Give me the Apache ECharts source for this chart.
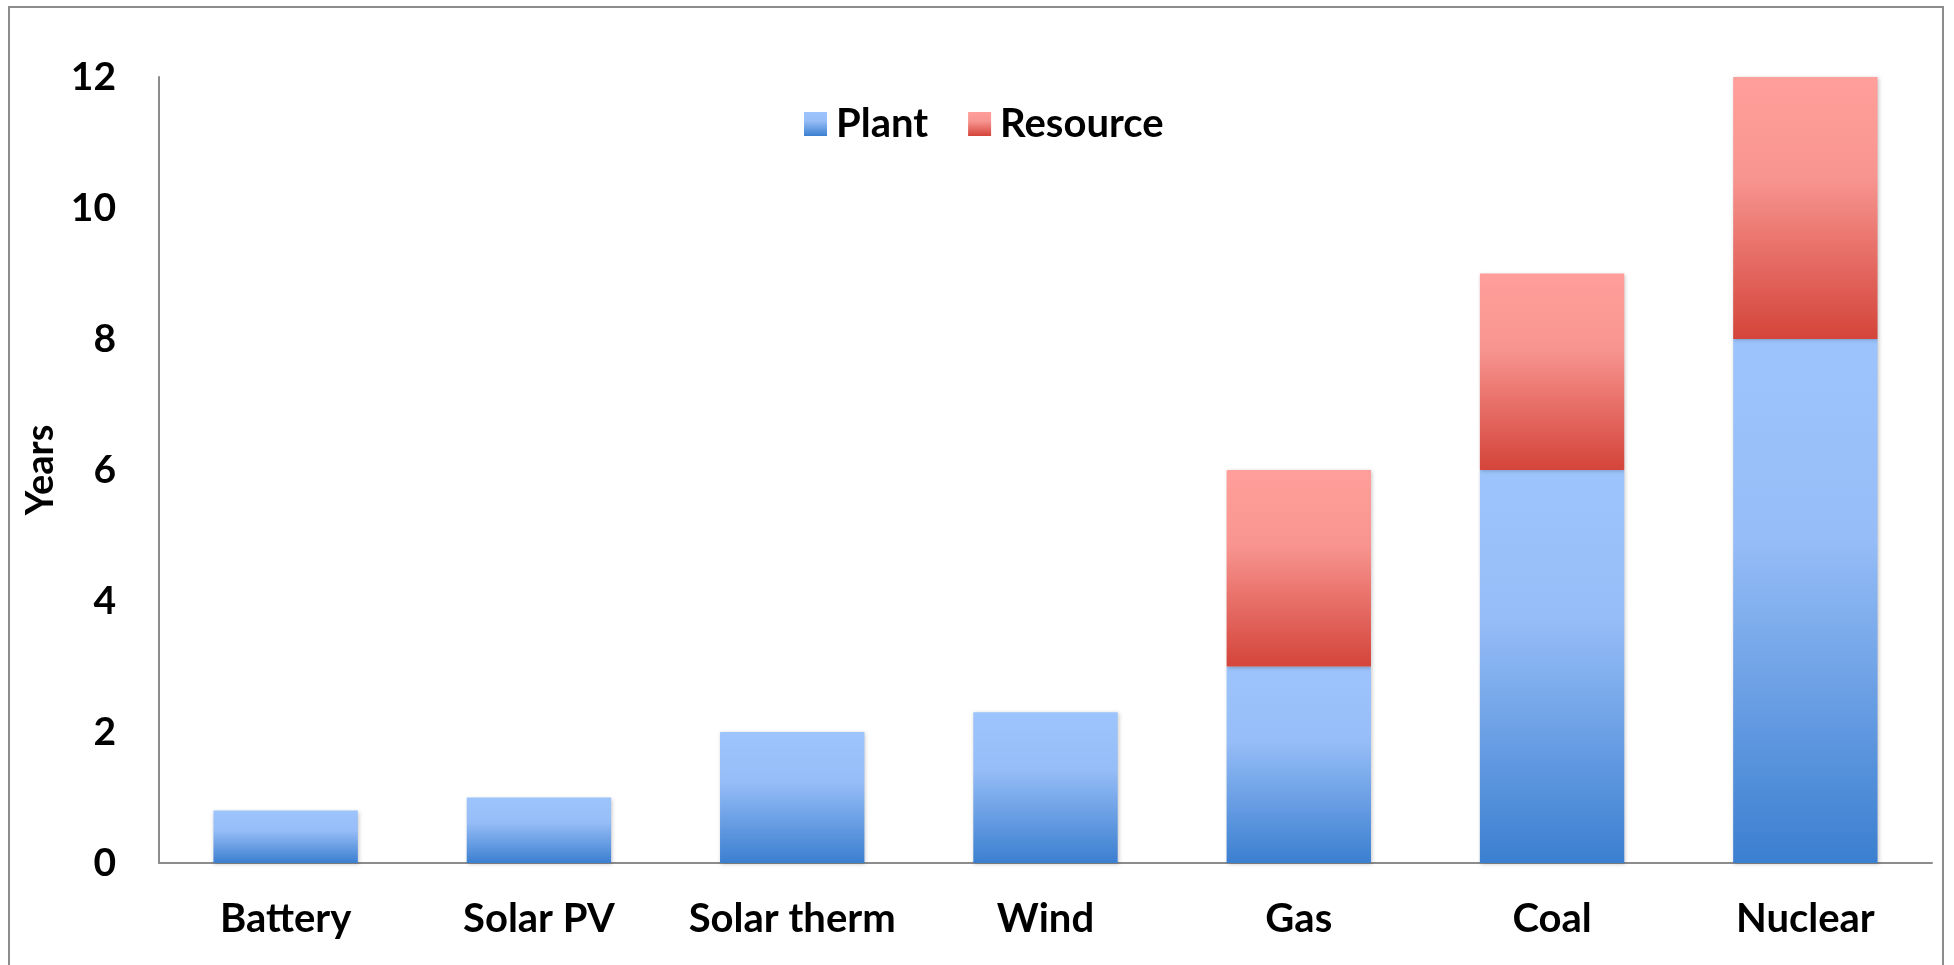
<!DOCTYPE html>
<html>
<head>
<meta charset="utf-8">
<script src="https://cdn.jsdelivr.net/npm/echarts@6/dist/echarts.min.js"></script>
<style>
html,body{margin:0;padding:0;background:#fff;}
#chart{width:1954px;height:965px;}
</style>
</head>
<body>
<div id="chart"></div>
<script>
const categories = ['Battery', 'Solar PV', 'Solar therm', 'Wind', 'Gas', 'Coal', 'Nuclear'];
const plantValues = [0.8, 1.0, 2.0, 2.3, 3, 6, 8];
const resourceValues = [null, null, null, null, 3, 3, 4];
const seriesNames = ['Plant', 'Resource'];
const yTicks = { min: 0, max: 12, interval: 2 };

const FONT = 'Lato, "Open Sans", sans-serif';

function grad(top, mid, bottom) {
  return new echarts.graphic.LinearGradient(0, 0, 0, 1, [
    { offset: 0, color: top },
    { offset: 0.38, color: mid },
    { offset: 1, color: bottom }
  ]);
}

const chart = echarts.init(document.getElementById('chart'), null, { renderer: 'canvas' });
chart.setOption({
  backgroundColor: '#ffffff',
  animation: false,
  graphic: [{
    type: 'rect',
    shape: { x: 9, y: 7, width: 1934, height: 975 },
    style: { fill: 'none', stroke: '#8c8c8c', lineWidth: 2 },
    silent: true
  }],
  legend: {
    left: 799,
    top: 99,
    itemWidth: 23,
    itemHeight: 24,
    itemGap: 40,
    icon: 'rect',
    textStyle: { fontFamily: FONT, fontWeight: 'bold', fontSize: 40, color: '#000', padding: [0, 0, 0, 4] },
    data: seriesNames
  },
  grid: { left: 159, right: 22, top: 77, bottom: 102, containLabel: false },
  xAxis: {
    type: 'category',
    data: categories,
    axisLine: { lineStyle: { color: '#8c8c8c', width: 2 } },
    axisTick: { show: false },
    axisLabel: { interval: 0, fontFamily: FONT, fontWeight: 'bold', fontSize: 40, color: '#000', margin: 36 },
    splitLine: { show: false }
  },
  yAxis: {
    type: 'value',
    min: yTicks.min,
    max: yTicks.max,
    interval: yTicks.interval,
    name: 'Years',
    nameLocation: 'middle',
    nameGap: 96,
    nameRotate: 90,
    nameTextStyle: { fontFamily: FONT, fontWeight: 'bold', fontSize: 38, color: '#000' },
    axisLine: { show: true, lineStyle: { color: '#8c8c8c', width: 2 } },
    axisTick: { show: false },
    axisLabel: { fontFamily: FONT, fontWeight: 'bold', fontSize: 39, color: '#000', margin: 43 },
    splitLine: { show: false }
  },
  series: [
    {
      name: seriesNames[0],
      type: 'bar',
      stack: 'total',
      barWidth: '57%',
      data: plantValues,
      itemStyle: {
        color: grad('#9dc4fc', '#96bdf7', '#3b7fd0'),
        shadowColor: 'rgba(0,0,0,0.22)',
        shadowBlur: 4,
        shadowOffsetX: 1,
        shadowOffsetY: 1
      }
    },
    {
      name: seriesNames[1],
      type: 'bar',
      stack: 'total',
      barWidth: '57%',
      data: resourceValues,
      itemStyle: {
        color: grad('#ff9e9a', '#f89590', '#d4443a'),
        shadowColor: 'rgba(0,0,0,0.22)',
        shadowBlur: 4,
        shadowOffsetX: 1,
        shadowOffsetY: 1
      }
    }
  ]
});
</script>
</body>
</html>
